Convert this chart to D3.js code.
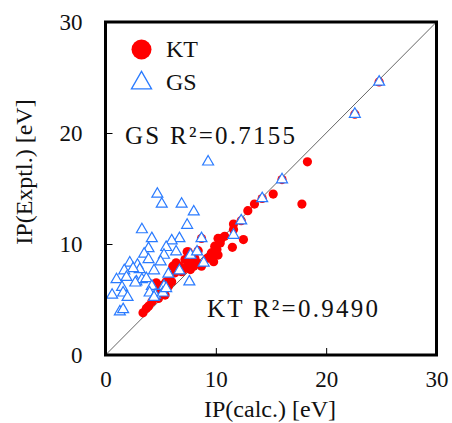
<!DOCTYPE html>
<html>
<head>
<meta charset="utf-8">
<script src="https://cdn.jsdelivr.net/npm/d3@7"></script>
<style>
  body { margin: 0; background: #fff; }
</style>
</head>
<body>
<div id="chart"></div>
<script>
// values
const xTicks = [0, 10, 20, 30];
const yTicks = [0, 10, 20, 30];

const ktCalc = [24.8, 22.6, 18.3, 16.0, 15.2, 17.8, 14.2, 13.5, 12.9, 12.3, 12.5, 11.6, 11.6, 11.5,
  10.5, 10.2, 9.9, 10.2, 9.6, 9.8, 9.2, 8.7, 8.4, 7.5, 8.7, 8.3, 8.0, 7.7, 7.2, 6.9, 6.4, 6.3,
  5.8, 5.5, 5.2, 4.6, 4.9, 5.4, 4.8, 4.2, 3.9, 3.7, 3.4, 7.2, 6.1, 6.7, 7.5, 8.1, 5.7, 6.0,
  10.8, 10.4, 10.1, 9.7, 9.6, 7.4];
const ktExpt = [24.6, 21.7, 17.4, 15.8, 14.5, 13.6, 14.1, 13.6, 13.0, 12.1, 10.4, 11.8, 11.3, 9.7,
  10.5, 10.5, 9.8, 9.0, 9.2, 8.4, 8.7, 10.5, 9.4, 9.3, 8.0, 8.3, 8.0, 7.7, 7.8, 7.5, 8.3, 7.4,
  7.1, 6.6, 6.3, 6.5, 5.9, 5.4, 5.1, 4.8, 4.4, 4.2, 3.8, 8.6, 8.0, 8.0, 8.3, 8.7, 6.2, 6.6,
  10.7, 10.1, 9.5, 9.2, 8.8, 9.3];

const gsCalc = [24.8, 22.6, 9.3, 16.0, 4.7, 5.1, 6.9, 8.0, 7.4, 14.2, 12.3, 11.6, 3.3, 4.2, 6.7,
  8.7, 6.0, 5.5, 3.9, 6.4, 5.3, 3.5, 7.7, 8.3, 3.9, 5.0, 2.2, 2.9, 3.1, 2.5, 1.7, 4.4, 5.7, 6.7,
  8.9, 1.0, 1.9, 2.8, 3.3, 3.7, 7.6, 2.7, 1.5, 4.2, 5.3, 0.6, 1.6, 2.0, 4.0, 4.5, 4.4, 5.2, 1.3,
  1.6, 5.5];
const gsExpt = [24.6, 21.7, 17.4, 15.8, 14.5, 13.6, 13.6, 12.9, 11.7, 14.1, 12.1, 10.8, 11.3, 10.5,
  10.5, 10.5, 10.3, 9.7, 9.6, 9.3, 9.0, 9.1, 9.0, 9.3, 8.6, 8.4, 8.3, 8.1, 7.7, 7.8, 7.6, 7.6,
  7.3, 7.6, 8.3, 6.8, 7.0, 6.6, 6.8, 6.9, 6.6, 6.5, 6.1, 6.2, 6.2, 5.4, 5.6, 5.2, 5.6, 5.4, 5.2,
  5.6, 3.9, 4.1, 6.0];

const seriesNames = ['KT', 'GS'];
const r2Labels = ['KT R\u00b2=0.9490', 'GS R\u00b2=0.7155'];

const FONT = '"Liberation Serif", "DejaVu Serif", serif';
const W = 452, H = 423;
const margin = { top: 22, right: 15.5, bottom: 68, left: 105.5 };
const width = W - margin.left - margin.right,
  height = H - margin.top - margin.bottom;

const svg = d3.select('#chart').append('svg')
  .attr('width', W).attr('height', H)
  .attr('font-family', FONT);
const g = svg.append('g').attr('transform', `translate(${margin.left},${margin.top})`);

const x = d3.scaleLinear().domain([0, 30]).range([0, width]);
const y = d3.scaleLinear().domain([0, 30]).range([height, 0]);

// y=x line
g.append('line')
  .attr('x1', x(0)).attr('y1', y(0)).attr('x2', x(30)).attr('y2', y(30))
  .attr('stroke', '#555').attr('stroke-width', 0.9);

// KT circles
g.append('g').selectAll('circle')
  .data(ktCalc.map((v, i) => [v, ktExpt[i]]))
  .enter().append('circle')
  .attr('cx', d => x(d[0])).attr('cy', d => y(d[1]))
  .attr('r', 4.6).attr('fill', '#ff0000');

// GS triangles
const tri = d3.symbol().type(d3.symbolTriangle).size(52);
g.append('g').selectAll('path')
  .data(gsCalc.map((v, i) => [v, gsExpt[i]]))
  .enter().append('path')
  .attr('d', tri)
  .attr('transform', d => `translate(${x(d[0])},${y(d[1])})`)
  .attr('fill', '#fff').attr('stroke', '#2a7bff').attr('stroke-width', 1.2);

// axes with inside ticks
const xAxis = g.append('g').attr('transform', `translate(0,${height})`)
  .call(d3.axisBottom(x).tickValues(xTicks).tickSize(-7).tickPadding(16));
const yAxis = g.append('g')
  .call(d3.axisLeft(y).tickValues(yTicks).tickSize(-7).tickPadding(23));
[xAxis, yAxis].forEach(a => {
  a.attr('font-family', FONT);
  a.select('.domain').remove();
  a.selectAll('.tick line').attr('stroke', '#000').attr('stroke-width', 1);
  a.selectAll('.tick text').style('font-size', '23px').style('font-family', FONT).attr('fill', '#111');
});

// frame
g.append('rect').attr('x', 0).attr('y', 0).attr('width', width).attr('height', height)
  .attr('fill', 'none').attr('stroke', '#000').attr('stroke-width', 3);

// axis titles
svg.append('text').attr('x', 270).attr('y', 417).attr('text-anchor', 'middle')
  .style('font-size', '24px').attr('fill', '#111').text('IP(calc.) [eV]');
svg.append('text').attr('transform', 'translate(32,172) rotate(-90)').attr('text-anchor', 'middle')
  .style('font-size', '24px').attr('fill', '#111').text('IP(Exptl.) [eV]');

// legend
const lg = svg.append('g');
lg.append('circle').attr('cx', 141.5).attr('cy', 49.5).attr('r', 10).attr('fill', '#ff0000');
lg.append('path').attr('d', d3.symbol().type(d3.symbolTriangle).size(175))
  .attr('transform', 'translate(141.5,83)')
  .attr('fill', '#fff').attr('stroke', '#2a7bff').attr('stroke-width', 1.3);
lg.selectAll('text.leg').data(seriesNames).enter().append('text')
  .attr('x', 166).attr('y', (d, i) => 57 + i * 33)
  .style('font-size', '24px').attr('fill', '#111').text(d => d);

// R2 annotations
svg.append('text').attr('x', 125).attr('y', 144).style('font-size', '25px')
  .attr('fill', '#111').attr('textLength', 170).text(r2Labels[1]);
svg.append('text').attr('x', 207).attr('y', 317).style('font-size', '25px')
  .attr('fill', '#111').attr('textLength', 171).text(r2Labels[0]);
</script>
</body>
</html>
